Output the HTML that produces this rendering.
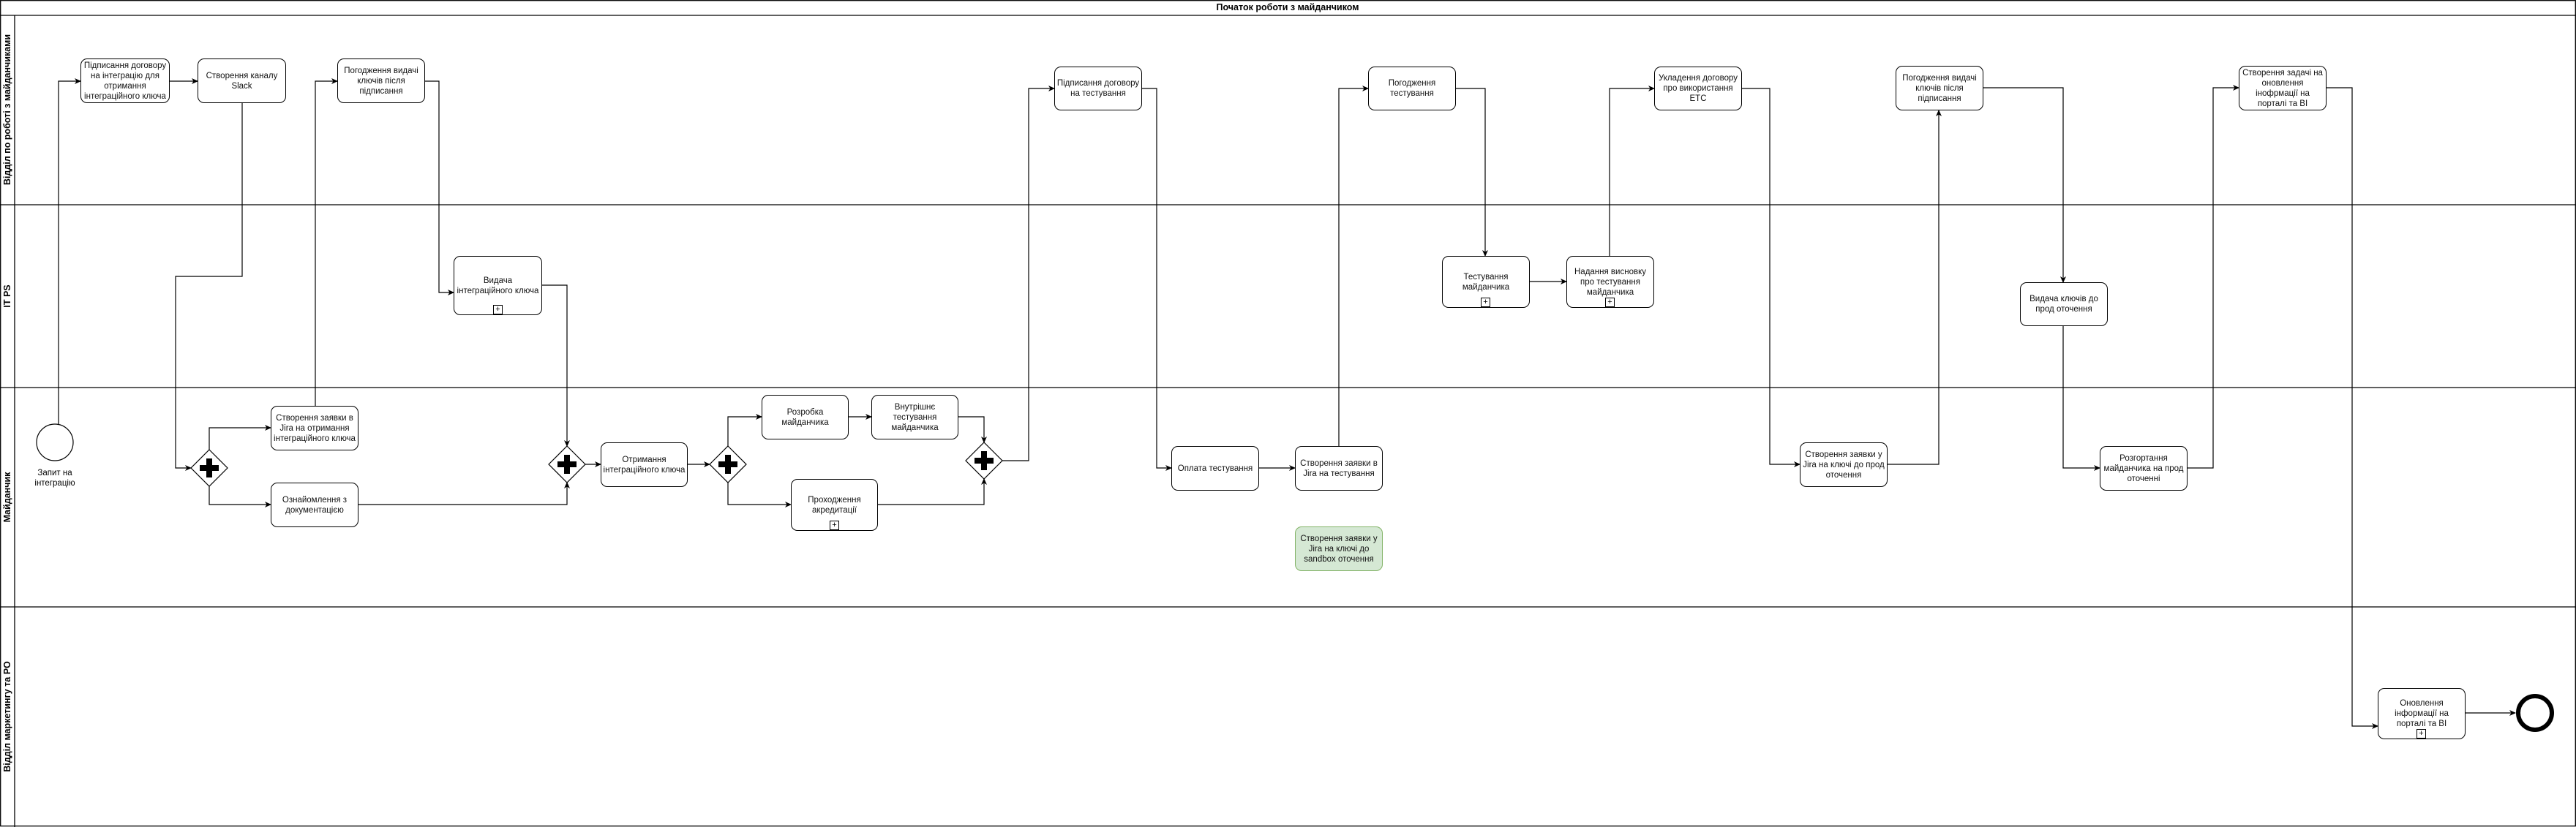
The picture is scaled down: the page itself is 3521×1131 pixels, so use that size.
<!DOCTYPE html>
<html><head><meta charset="utf-8">
<style>
html,body{margin:0;padding:0;background:#fff;}
#c{position:relative;width:3521px;height:1131px;overflow:hidden;font-family:"Liberation Sans",Arial,sans-serif;}
svg{position:absolute;left:0;top:0;}
.n{position:absolute;box-sizing:border-box;border:1.3px solid #000;border-radius:9px;background:#fff;display:flex;align-items:center;justify-content:center;text-align:center;font-size:11.5px;line-height:14px;color:#111;padding:0 1px;}
.g{background:#d5e8d4;border-color:#82b366;}
.p{position:absolute;width:13px;height:13px;border:1px solid #000;box-sizing:border-box;font-size:11px;line-height:11px;text-align:center;background:#fff;}
.lab{position:absolute;font-weight:bold;font-size:12.5px;white-space:nowrap;transform:translate(-50%,-50%) rotate(-90deg);}
</style></head><body><div id="c">
<svg width="3521" height="1131" viewBox="0 0 3521 1131">
<defs><marker id="a" markerWidth="10" markerHeight="10" refX="8" refY="5" orient="auto" markerUnits="userSpaceOnUse"><path d="M0,1 L9,5 L0,9 L2.5,5 Z" fill="#000"/></marker></defs>
<g fill="none" stroke="#000" stroke-width="1.3">
<rect x="0.7" y="0.7" width="3519.6" height="1129" />
<line x1="0" y1="21" x2="3521" y2="21"/>
<line x1="20" y1="21" x2="20" y2="1131"/>
<line x1="0" y1="280" x2="3521" y2="280"/>
<line x1="0" y1="530" x2="3521" y2="530"/>
<line x1="0" y1="830" x2="3521" y2="830"/>
</g>
<g fill="none" stroke="#000" stroke-width="1.2" marker-end="url(#a)">
<path d="M80,581 V111 H110"/>
<path d="M232,111 H270"/>
<path d="M331,141 V378 H240 V640 H261"/>
<path d="M286,615 V585 H370"/>
<path d="M286,665 V690 H370"/>
<path d="M431,555 V111 H461"/>
<path d="M581,111 H600 V400 H620"/>
<path d="M741,390 H775 V610"/>
<path d="M489,690 H775 V660"/>
<path d="M800,635 H821"/>
<path d="M940,635 H970"/>
<path d="M995,610 V570 H1041"/>
<path d="M995,660 V690 H1081"/>
<path d="M1159,570 H1191"/>
<path d="M1310,570 H1345 V605"/>
<path d="M1199,690 H1345 V655"/>
<path d="M1370,630 H1406 V121 H1441"/>
<path d="M1561,121 H1581 V640 H1601"/>
<path d="M1721,640 H1770"/>
<path d="M1830,610 V121 H1870"/>
<path d="M1990,121 H2030 V350"/>
<path d="M2091,385 H2141"/>
<path d="M2200,350 V121 H2261"/>
<path d="M2381,121 H2419 V635 H2460"/>
<path d="M2580,635 H2650 V151"/>
<path d="M2711,120 H2820 V386"/>
<path d="M2820,446 V640 H2870"/>
<path d="M2990,640 H3025 V120 H3060"/>
<path d="M3180,120 H3215 V993 H3250"/>
<path d="M3370,975 H3438"/>
</g>
<ellipse cx="75" cy="605" rx="25" ry="25" fill="#fff" stroke="#000" stroke-width="1.2"/>
<circle cx="3465" cy="975" r="23" fill="#fff" stroke="#000" stroke-width="6"/>
<g stroke="#000" stroke-width="1.2" fill="#fff">
<path d="M286,615 L311,640 L286,665 L261,640 Z"/>
<path d="M775,610 L800,635 L775,660 L750,635 Z"/>
<path d="M995,610 L1020,635 L995,660 L970,635 Z"/>
<path d="M1345,605 L1370,630 L1345,655 L1320,630 Z"/>
</g>
<g fill="#000">
<rect x="282" y="627" width="8" height="26"/><rect x="273" y="636" width="26" height="8"/>
<rect x="771" y="622" width="8" height="26"/><rect x="762" y="631" width="26" height="8"/>
<rect x="991" y="622" width="8" height="26"/><rect x="982" y="631" width="26" height="8"/>
<rect x="1341" y="617" width="8" height="26"/><rect x="1332" y="626" width="26" height="8"/>
</g>
<text x="1760" y="14" text-anchor="middle" font-family="Liberation Sans, sans-serif" font-weight="bold" font-size="12.5">Початок роботи з майданчиком</text>
<text x="75" y="650" text-anchor="middle" font-family="Liberation Sans, sans-serif" font-size="11.5">Запит на</text>
<text x="75" y="664" text-anchor="middle" font-family="Liberation Sans, sans-serif" font-size="11.5">інтеграцію</text>
</svg>
<div class="lab" style="left:10px;top:150px">Відділ по роботі з майданчиками</div>
<div class="lab" style="left:10px;top:405px">IT PS</div>
<div class="lab" style="left:10px;top:680px">Майданчик</div>
<div class="lab" style="left:10px;top:980px">Відділ маркетингу та PO</div>

<div class="n" style="left:110px;top:80px;width:122px;height:61px">Підписання договору на інтеграцію для отримання інтеграційного ключа</div>
<div class="n" style="left:270px;top:80px;width:121px;height:61px">Створення каналу Slack</div>
<div class="n" style="left:461px;top:80px;width:120px;height:61px">Погодження видачі ключів після підписання</div>
<div class="n" style="left:620px;top:350px;width:121px;height:81px">Видача інтеграційного ключа</div>
<div class="p" style="left:674px;top:417px">+</div>
<div class="n" style="left:370px;top:555px;width:120px;height:61px">Створення заявки в Jira на отримання інтеграційного ключа</div>
<div class="n" style="left:370px;top:660px;width:120px;height:61px">Ознайомлення з документацією</div>
<div class="n" style="left:821px;top:605px;width:119px;height:61px">Отримання інтеграційного ключа</div>
<div class="n" style="left:1041px;top:540px;width:119px;height:61px">Розробка майданчика</div>
<div class="n" style="left:1191px;top:540px;width:119px;height:61px">Внутрішнє тестування майданчика</div>
<div class="n" style="left:1081px;top:655px;width:119px;height:71px">Проходження акредитації</div>
<div class="p" style="left:1134px;top:712px">+</div>
<div class="n" style="left:1441px;top:91px;width:120px;height:60px">Підписання договору на тестування</div>
<div class="n" style="left:1601px;top:610px;width:120px;height:61px">Оплата тестування</div>
<div class="n" style="left:1770px;top:610px;width:120px;height:61px">Створення заявки в Jira на тестування</div>
<div class="n g" style="left:1770px;top:720px;width:120px;height:61px">Створення заявки у Jira на ключі до sandbox оточення</div>
<div class="n" style="left:1870px;top:91px;width:120px;height:60px">Погодження тестування</div>
<div class="n" style="left:1971px;top:350px;width:120px;height:71px">Тестування майданчика</div>
<div class="p" style="left:2024px;top:407px">+</div>
<div class="n" style="left:2141px;top:350px;width:120px;height:71px">Надання висновку про тестування майданчика</div>
<div class="p" style="left:2194px;top:407px">+</div>
<div class="n" style="left:2261px;top:91px;width:120px;height:60px">Укладення договору про використання ЕТС</div>
<div class="n" style="left:2460px;top:605px;width:120px;height:61px">Створення заявки у Jira на ключі до прод оточення</div>
<div class="n" style="left:2591px;top:90px;width:120px;height:61px">Погодження видачі ключів після підписання</div>
<div class="n" style="left:2761px;top:386px;width:120px;height:60px">Видача ключів до прод оточення</div>
<div class="n" style="left:2870px;top:610px;width:120px;height:61px">Розгортання майданчика на прод оточенні</div>
<div class="n" style="left:3060px;top:90px;width:120px;height:61px">Створення задачі на оновлення інофрмації на порталі та BI</div>
<div class="n" style="left:3250px;top:941px;width:120px;height:70px">Оновлення інформації на порталі та BI</div>
<div class="p" style="left:3303px;top:997px">+</div>
</div></body></html>
